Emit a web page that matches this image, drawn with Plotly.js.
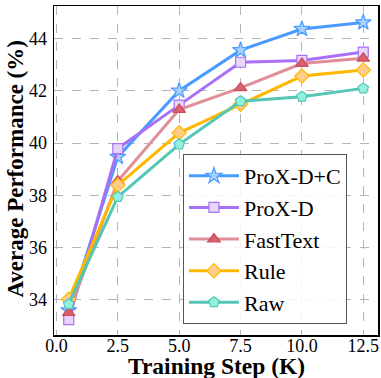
<!DOCTYPE html>
<html><head><meta charset="utf-8">
<script src="https://cdn.plot.ly/plotly-3.0.1.min.js"></script>
<style>html,body{margin:0;padding:0;background:#fff}#chart{width:381px;height:378px}</style>
</head><body><div id="chart"></div>
<script>
const steps = [0.5, 2.5, 5.0, 7.5, 10.0, 12.5];
const proxDC = [33.6, 39.47, 42.0, 43.55, 44.36, 44.61];
const proxD = [33.25, 39.79, 41.45, 43.09, 43.16, 43.48];
const fastText = [33.51, 38.55, 41.28, 42.11, 43.04, 43.24];
const rule = [34.03, 38.39, 40.39, 41.48, 42.56, 42.79];
const raw = [33.84, 37.94, 39.95, 41.6, 41.77, 42.09];
const seriesNames = ['ProX-D+C', 'ProX-D', 'FastText', 'Rule', 'Raw'];
const xTicks = [0.0, 2.5, 5.0, 7.5, 10.0, 12.5];
const xTickText = ['0.0', '2.5', '5.0', '7.5', '10.0', '12.5'];
const yTicks = [34, 36, 38, 40, 42, 44];

const styles = [
  {line: '#4a9bff', fill: '#a6d2ff', edge: '#4a9bff', symbol: 'star', size: 12},
  {line: '#a970f5', fill: '#e6d7fa', edge: '#a970f5', symbol: 'square', size: 10},
  {line: '#e08e98', fill: '#d9606e', edge: '#c94d5d', symbol: 'triangle-up', size: 11},
  {line: '#ffb800', fill: '#ffcd87', edge: '#ffb800', symbol: 'diamond', size: 11},
  {line: '#55c6b4', fill: '#93f0df', edge: '#55c6b4', symbol: 'pentagon', size: 11}
];
const allY = [proxDC, proxD, fastText, rule, raw];
const traces = allY.map((ys, i) => ({
  x: steps, y: ys, name: seriesNames[i], type: 'scatter', mode: 'lines+markers',
  legendgroup: 'g' + i,
  line: {color: styles[i].line, width: 3},
  marker: {symbol: styles[i].symbol, size: styles[i].size, color: styles[i].fill,
           line: {color: styles[i].edge, width: 1.2}}
}));

const font = '"Liberation Serif", serif';
const layout = {
  width: 381, height: 378,
  margin: {l: 54, r: 3, t: 6, b: 43},
  paper_bgcolor: '#fff', plot_bgcolor: '#fff',
  font: {family: font, color: '#000', size: 18},
  showlegend: true,
  legend: {
    x: 0.398, y: 0.55, xanchor: 'left', yanchor: 'top',
    bgcolor: 'rgba(255,255,255,0.85)', bordercolor: '#555', borderwidth: 1,
    font: {family: font, size: 22, color: '#000'},
    traceorder: 'grouped', tracegroupgap: 0, itemwidth: 50
  },
  xaxis: {
    range: [-0.1, 13.1], tickvals: xTicks, ticktext: xTickText,
    showline: true, linecolor: '#000', linewidth: 1.5, mirror: true,
    showgrid: true, gridcolor: '#b5b5b5', griddash: 'dash', gridwidth: 1,
    zeroline: false, ticks: '', tickfont: {family: font, size: 18},
    ticklabelstandoff: -6,
    automargin: false,
    title: {text: ''}
  },
  yaxis: {
    range: [32.66, 45.24], tickvals: yTicks,
    showline: true, linecolor: '#000', linewidth: 1.5, mirror: true,
    showgrid: true, gridcolor: '#b5b5b5', griddash: 'dash', gridwidth: 1,
    zeroline: false, ticks: '', tickfont: {family: font, size: 18},
    ticklabelstandoff: 2,
    automargin: false,
    title: {text: ''}
  },
  annotations: [
    {text: '<b>Training Step (K)</b>', xref: 'paper', yref: 'paper', x: 0.5, y: -0.094,
     xanchor: 'center', yanchor: 'middle', showarrow: false, font: {family: font, size: 23.5}},
    {text: '<b>Average Performance (%)</b>', xref: 'paper', yref: 'paper', x: -0.118, y: 0.505,
     xanchor: 'center', yanchor: 'middle', textangle: -90, showarrow: false, font: {family: font, size: 23}}
  ]
};
Plotly.newPlot('chart', traces, layout, {displayModeBar: false, staticPlot: true});
</script>
</body></html>
